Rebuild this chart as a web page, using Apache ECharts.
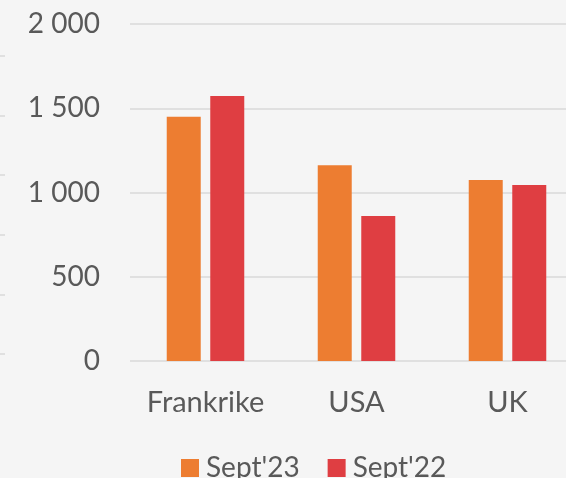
<!DOCTYPE html>
<html><head><meta charset="utf-8">
<script src="https://cdn.jsdelivr.net/npm/echarts@6/dist/echarts.min.js"></script>
<style>html,body{margin:0;padding:0;background:#f5f5f5}#c{width:566px;height:478px}</style>
</head><body><div id="c"></div>
<script>
const categories = ['Frankrike', 'USA', 'UK'];
const sept23 = [1450, 1162, 1074];
const sept22 = [1572, 860, 1044];
const seriesNames = ["Sept'23", "Sept'22"];
const yTicks = [0, 500, 1000, 1500, 2000];

const fmt = v => String(v).replace(/\B(?=(\d{3})+(?!\d))/g, ' ');
const font = "Lato, 'Noto Sans', sans-serif";
const chart = echarts.init(document.getElementById('c'), null, {renderer: 'canvas'});
chart.setOption({
  backgroundColor: '#f5f5f5',
  animation: false,
  textStyle: {fontFamily: font},
  legend: {
    data: seriesNames, top: 449, left: 176, itemWidth: 18, itemHeight: 18, itemGap: 28,
    icon: 'rect',
    textStyle: {fontSize: 28, color: '#595959', fontFamily: font, padding: [0, 0, 0, 2]}
  },
  grid: [
    {left: 130, top: 24, width: 453, height: 337, outerBoundsMode: 'none', containLabel: false},
    {left: 5, top: 56, width: 10, height: 298, outerBoundsMode: 'none'}
  ],
  xAxis: [
    {type: 'category', data: categories, gridIndex: 0,
     axisLine: {show: false}, axisTick: {show: false},
     axisLabel: {interval: 0, hideOverlap: false, fontSize: 29, color: '#595959', margin: 27, fontFamily: font}},
    {type: 'value', gridIndex: 1, show: false}
  ],
  yAxis: [
    {type: 'value', min: yTicks[0], max: yTicks[yTicks.length - 1], interval: 500, gridIndex: 0,
     axisLine: {show: false}, axisTick: {show: false},
     splitLine: {lineStyle: {color: '#d9d9d9', width: 1.5}},
     axisLabel: {fontSize: 28, color: '#595959', margin: 30, fontFamily: font, formatter: fmt}},
    {type: 'value', min: 0, max: 5, interval: 1, gridIndex: 1,
     axisLine: {show: false}, axisLabel: {show: false}, splitLine: {show: false},
     axisTick: {show: true, length: 5, lineStyle: {color: '#d9d9d9', width: 1.5}}}
  ],
  series: [
    {name: seriesNames[0], type: 'bar', data: sept23, barWidth: 34, barGap: '28%',
     itemStyle: {color: '#ED7D31'}},
    {name: seriesNames[1], type: 'bar', data: sept22, barWidth: 34, barGap: '28%',
     itemStyle: {color: '#DF3E42'}}
  ]
});
</script></body></html>
